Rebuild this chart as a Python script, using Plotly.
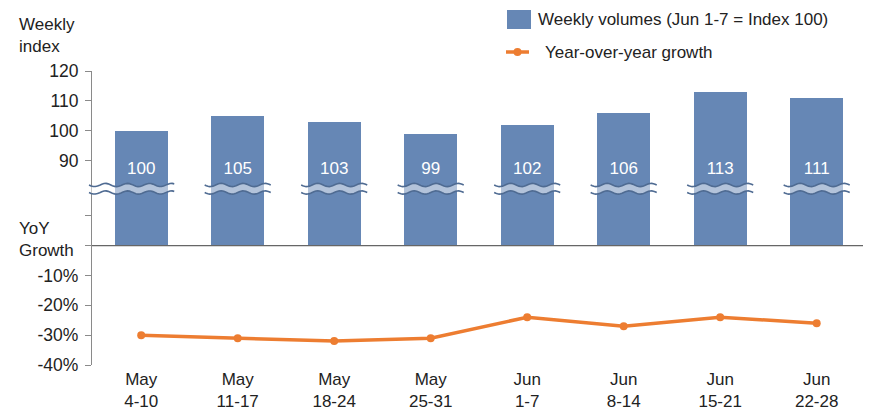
import math
import plotly.graph_objects as go

# ---- data ----
weeks = ["May<br>4-10", "May<br>11-17", "May<br>18-24", "May<br>25-31",
         "Jun<br>1-7", "Jun<br>8-14", "Jun<br>15-21", "Jun<br>22-28"]
weekly_index = [100, 105, 103, 99, 102, 106, 113, 111]
yoy_growth = [-30, -31, -32, -31, -24, -27, -24, -26]
index_ticks = [120, 110, 100, 90]
yoy_ticks = [10, 0, -10, -20, -30, -40]
yoy_tick_labels = ["", "", "-10%", "-20%", "-30%", "-40%"]
series_names = ["Weekly volumes (Jun 1-7 = Index 100)", "Year-over-year growth"]

# ---- broken-axis mapping (upper: index, lower: YoY %) ----
INDEX_OFFSET = 61.5          # index value i is drawn at i - 61.5 (90 -> 28.5)
Y_MIN, Y_MAX = -40, 120 - INDEX_OFFSET
X_MIN, X_MAX = -0.51, 7.48
BAR_W = 0.55

W, H = 874, 411
ML, MR, MT, MB = 92, 11, 71, 46
PW, PH = W - ML - MR, H - MT - MB

BLUE = "#6687b5"
ORANGE = "#ED7D31"
TXT = "#222222"
AX = "#8a8a8a"
FONT = "Liberation Sans, Arial, sans-serif"

x = list(range(len(weeks)))
bar_y = [v - INDEX_OFFSET for v in weekly_index]

fig = go.Figure()
fig.add_trace(go.Bar(
    x=x, y=bar_y, width=BAR_W, marker=dict(color=BLUE, line=dict(width=0)),
    name=series_names[0], showlegend=False, hoverinfo="skip"))
fig.add_trace(go.Scatter(
    x=x, y=[25.3] * len(x), mode="text", text=[str(v) for v in weekly_index],
    textfont=dict(color="white", size=17, family=FONT), showlegend=False,
    hoverinfo="skip"))
fig.add_trace(go.Scatter(
    x=x, y=yoy_growth, mode="lines+markers", name=series_names[1],
    showlegend=False,
    line=dict(color=ORANGE, width=3.5), marker=dict(color=ORANGE, size=8),
    hoverinfo="skip"))

# ---- geometry helpers for decorations ----
def px_x(xd):
    return ML + (xd - X_MIN) / (X_MAX - X_MIN) * PW

def paper_x(px):
    return (px - ML) / PW

def paper_y_px(py):
    return (H - MB - py) / PH

def wave_pts(x0, x1, yc, amp=1.6, period=22.0, n=40):
    pts = []
    for k in range(n + 1):
        px = x0 + (x1 - x0) * k / n
        py = yc + amp * math.sin(2 * math.pi * (px - x0) / period)
        pts.append((paper_x(px), paper_y_px(py)))
    return pts

def path_from(pts):
    return "M " + " L ".join(f"{a:.5f},{b:.5f}" for a, b in pts)

Y_TOP_WAVE, Y_BOT_WAVE = 185.0, 192.5
spans = []
for i in x:
    cx = px_x(i)
    half = BAR_W / 2 * PW / (X_MAX - X_MIN)
    left = cx - half - 6.5
    if i == 0:
        left = ML - 3
    spans.append((left, cx + half + 6.5))

shapes = []
# zero baseline
shapes.append(dict(type="line", xref="paper", yref="y", x0=0, x1=1, y0=0, y1=0,
                   line=dict(color="#666666", width=1.2), layer="above"))
for (a, b) in spans:
    top = wave_pts(a, b, Y_TOP_WAVE)
    bot = wave_pts(a, b, Y_BOT_WAVE)
    band = path_from(top + bot[::-1]) + " Z"
    shapes.append(dict(type="path", path=band, xref="paper", yref="paper",
                       fillcolor="rgba(255,255,255,0.5)", line=dict(width=0),
                       layer="above"))
    for pts in (top, bot):
        shapes.append(dict(type="path", path=path_from(pts), xref="paper",
                           yref="paper", line=dict(color="#4f6b92", width=1.6),
                           layer="above"))

# ---- manual legend ----
shapes.append(dict(type="rect", xref="paper", yref="paper",
                   x0=paper_x(507), x1=paper_x(531),
                   y0=paper_y_px(29), y1=paper_y_px(10),
                   fillcolor=BLUE, line=dict(width=0)))
shapes.append(dict(type="line", xref="paper", yref="paper",
                   x0=paper_x(506), x1=paper_x(529),
                   y0=paper_y_px(52), y1=paper_y_px(52),
                   line=dict(color=ORANGE, width=3.5)))
shapes.append(dict(type="circle", xref="paper", yref="paper",
                   x0=paper_x(513.5), x1=paper_x(521.5),
                   y0=paper_y_px(56), y1=paper_y_px(48),
                   fillcolor=ORANGE, line=dict(width=0)))

tickvals = [v - INDEX_OFFSET for v in index_ticks] + yoy_ticks
ticktext = [str(v) for v in index_ticks] + yoy_tick_labels

fig.update_layout(
    width=W, height=H,
    margin=dict(l=ML, r=MR, t=MT, b=MB, pad=0, autoexpand=False),
    paper_bgcolor="white", plot_bgcolor="white",
    font=dict(family=FONT, color=TXT, size=17),
    bargap=0,
    showlegend=False,
    xaxis=dict(range=[X_MIN, X_MAX], tickvals=x, ticktext=weeks,
               showline=False, showgrid=False, zeroline=False, ticks="",
               ticklabelstandoff=2,
               tickfont=dict(size=17, color=TXT)),
    yaxis=dict(range=[Y_MIN, Y_MAX], tickvals=tickvals, ticktext=ticktext,
               showline=True, linecolor=AX, linewidth=1.2,
               ticks="outside", ticklen=6, tickcolor=AX, tickwidth=1.2,
               ticklabelstandoff=3,
               showgrid=False, zeroline=False,
               tickfont=dict(size=17.5, color=TXT)),
    shapes=shapes,
    annotations=[
        dict(text="Weekly<br>index", xref="paper", yref="paper",
             x=paper_x(17), y=paper_y_px(35), xanchor="left", yanchor="middle",
             align="left", showarrow=False, font=dict(size=17, color=TXT)),
        dict(text="YoY<br>Growth", xref="paper", yref="paper",
             x=paper_x(17), y=paper_y_px(239), xanchor="left", yanchor="middle",
             align="left", showarrow=False, font=dict(size=17, color=TXT)),
        dict(text=series_names[0], xref="paper", yref="paper",
             x=paper_x(536), y=paper_y_px(20), xanchor="left", yanchor="middle",
             showarrow=False, font=dict(size=17, color=TXT)),
        dict(text=series_names[1], xref="paper", yref="paper",
             x=paper_x(543), y=paper_y_px(52), xanchor="left", yanchor="middle",
             showarrow=False, font=dict(size=17, color=TXT)),
    ],
)

fig.write_html("out.html", config={"displayModeBar": False},
               post_script="document.body.style.margin='0';"
                           "document.body.style.padding='0';")
